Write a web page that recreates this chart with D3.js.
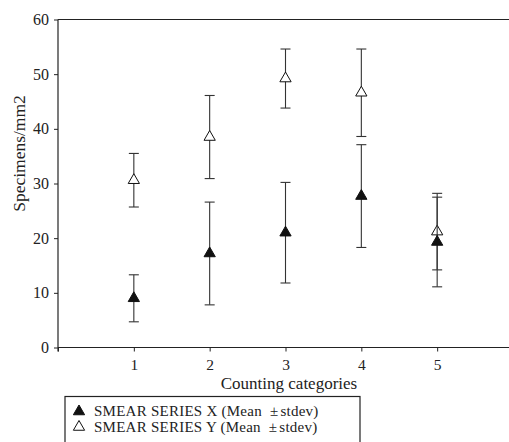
<!DOCTYPE html>
<html>
<head>
<meta charset="utf-8">
<script src="https://cdn.jsdelivr.net/npm/d3@7"></script>
<style>
  body { margin: 0; background: #fff; }
  svg text { font-family: "Liberation Serif", "DejaVu Serif", serif; fill: #222; }
</style>
</head>
<body>
<svg id="chart" width="509" height="442"></svg>
<script>
// Chart data
var categories = [1, 2, 3, 4, 5];
var seriesXMean = [9.0, 17.2, 21.0, 27.7, 19.3];
var seriesXSd = [4.3, 9.4, 9.2, 9.4, 8.2];
var seriesYMean = [30.6, 38.5, 49.2, 46.6, 21.2];
var seriesYSd = [4.9, 7.6, 5.4, 8.0, 7.0];
var yTicks = [0, 10, 20, 30, 40, 50, 60];
var legendLabels = ["SMEAR SERIES X (Mean ", "SMEAR SERIES Y (Mean "];

var svg = d3.select("#chart");
var W = 509, H = 442;
var plotLeft = 58, plotTop = 19.5, plotBottom = 347.5;

var x = d3.scaleLinear().domain([0, 6]).range([plotLeft, plotLeft + 455]);
var y = d3.scaleLinear().domain([0, 60]).range([plotBottom, plotTop]);

// Frame: top line and axes
svg.append("line")
    .attr("x1", plotLeft).attr("x2", W)
    .attr("y1", plotTop).attr("y2", plotTop)
    .style("stroke", "#222").style("stroke-width", 1.2);

var yAxis = svg.append("g")
    .attr("transform", "translate(" + plotLeft + ",0)")
    .call(d3.axisLeft(y).tickValues(yTicks).tickSize(4).tickPadding(5));

var xAxis = svg.append("g")
    .attr("transform", "translate(0," + plotBottom + ")")
    .call(d3.axisBottom(x).tickValues([0].concat(categories))
        .tickFormat(function(d) { return d === 0 ? "" : d; })
        .tickSize(4).tickPadding(7.5));

[yAxis, xAxis].forEach(function(g) {
    g.select(".domain").style("stroke", "#222").style("stroke-width", 1.2);
    g.selectAll(".tick line").style("stroke", "#222");
    g.selectAll("text").style("font-family", "Liberation Serif, serif")
        .style("font-size", "16px").style("fill", "#222");
});
xAxis.selectAll("text").style("font-size", "15.5px");
xAxis.select(".domain").attr("d", "M" + plotLeft + ",0H" + W);
yAxis.select(".domain").attr("d", "M0," + plotTop + "V" + (plotBottom + 4));

// Axis titles
svg.append("text")
    .attr("x", 289).attr("y", 388.5)
    .attr("text-anchor", "middle")
    .style("font-size", "17px")
    .text("Counting categories");

svg.append("text")
    .attr("transform", "translate(25,153.5) rotate(-90)")
    .attr("text-anchor", "middle")
    .style("font-size", "17.5px")
    .text("Specimens/mm2");

// Error bars + markers
var tri = d3.symbol().type(d3.symbolTriangle).size(55);

function drawSeries(means, sds, filled) {
    var g = svg.append("g");
    categories.forEach(function(c, i) {
        var cx = x(c), hi = y(means[i] + sds[i]), lo = y(means[i] - sds[i]);
        g.append("line").attr("x1", cx).attr("x2", cx).attr("y1", hi).attr("y2", lo)
            .style("stroke", "#333").style("stroke-width", 1.1);
        [hi, lo].forEach(function(yy) {
            g.append("line").attr("x1", cx - 5).attr("x2", cx + 5).attr("y1", yy).attr("y2", yy)
                .style("stroke", "#333").style("stroke-width", 1.1);
        });
    });
    categories.forEach(function(c, i) {
        g.append("path")
            .attr("d", tri)
            .attr("transform", "translate(" + x(c) + "," + y(means[i]) + ")")
            .style("fill", filled ? "#111" : "#fff")
            .style("stroke", "#111").style("stroke-width", 1);
    });
}
drawSeries(seriesYMean, seriesYSd, false);
drawSeries(seriesXMean, seriesXSd, true);

// Legend
svg.append("rect")
    .attr("x", 65).attr("y", 396.5).attr("width", 295).attr("height", 50)
    .style("fill", "none").style("stroke", "#222").style("stroke-width", 1.2);

legendLabels.forEach(function(lbl, i) {
    var by = 416 + i * 15.5;
    svg.append("path")
        .attr("d", tri)
        .attr("transform", "translate(79," + (by - 4.5) + ")")
        .style("fill", i === 0 ? "#111" : "#fff")
        .style("stroke", "#111").style("stroke-width", 1);
    var t = svg.append("text").attr("x", 94).attr("y", by)
        .style("font-size", "15px").style("letter-spacing", "0.25px");
    t.append("tspan").text(lbl);
    t.append("tspan").attr("dx", 4).text("\u00b1");
    t.append("tspan").attr("dx", 2).text("stdev)");
});
</script>
</body>
</html>
